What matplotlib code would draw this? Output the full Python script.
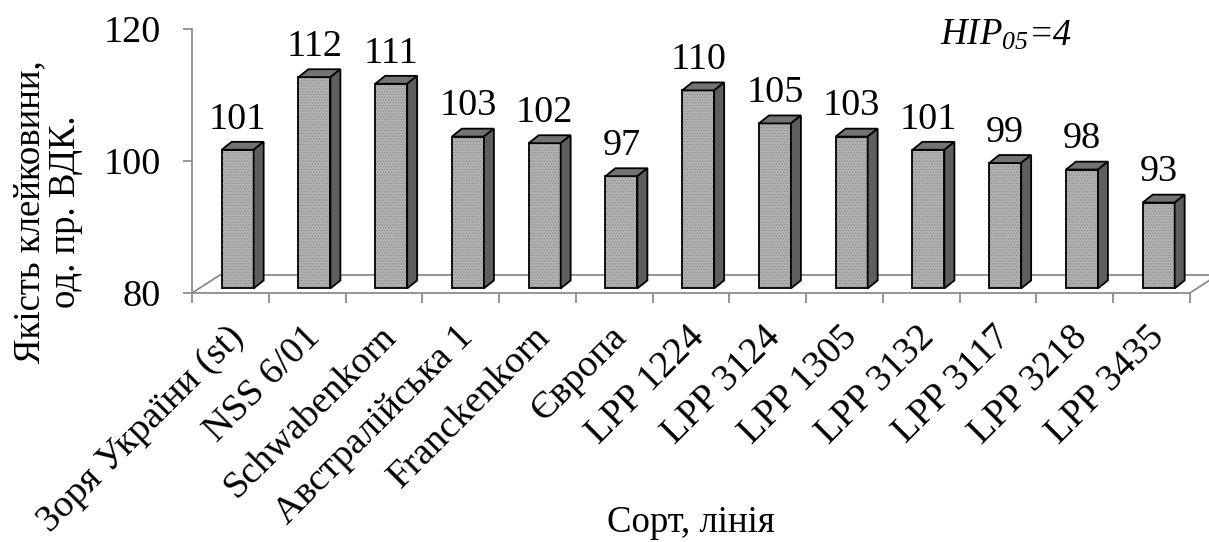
import numpy as np
import matplotlib
matplotlib.use("Agg")
import matplotlib.pyplot as plt
from matplotlib.patches import Polygon
from matplotlib.transforms import offset_copy

# Gluten quality by variety / breeding line
varieties = ["Зоря України (st)", "NSS 6/01", "Schwabenkorn", "Австралійська 1",
             "Franckenkorn", "Європа", "LPP 1224", "LPP 3124", "LPP 1305",
             "LPP 3132", "LPP 3117", "LPP 3218", "LPP 3435"]
quality = [101, 112, 111, 103, 102, 97, 110, 105, 103, 101, 99, 98, 93]
y_ticks = [80, 100, 120]
y_min, y_max = 80, 120
lsd_value = 4

# pseudo-3D projection, in data units
FLOOR_DX, FLOOR_DY = 0.365, 2.73
BAR_SHIFT_X, BAR_SHIFT_Y = 0.095, 0.7
BAR_W = 0.417
SIDE_DX, SIDE_DY = 0.13, 1.2

GREY_LINE = "#8c8c8c"
FONT = "Liberation Serif"
FS = 27.5

plt.rcParams["font.family"] = FONT
plt.rcParams["mathtext.fontset"] = "custom"
plt.rcParams["mathtext.rm"] = FONT + ":italic"
plt.rcParams["mathtext.it"] = FONT + ":italic"
plt.rcParams["hatch.linewidth"] = 0.6

W, H = 1209, 542
fig = plt.figure(figsize=(W / 100, H / 100), dpi=100)
ax = fig.add_axes([192 / W, (H - 293) / H, 997.75 / W, 264 / H])
n = len(varieties)
ax.set_xlim(-0.5, n - 0.5)
ax.set_ylim(y_min, y_max)

for side in ("top", "right", "bottom"):
    ax.spines[side].set_visible(False)
ax.spines["left"].set_color(GREY_LINE)
ax.spines["left"].set_linewidth(1.3)

ax.set_yticks(y_ticks)
ax.set_yticklabels([str(t) for t in y_ticks], fontsize=FS)
ax.tick_params(axis="y", length=6.5, width=1.3, color=GREY_LINE, pad=16)

# category boundaries get the tick marks, labels are drawn by hand
ax.set_xticks(np.arange(n + 1) - 0.5)
ax.set_xticklabels([])
ax.tick_params(axis="x", length=7, width=1.3, color=GREY_LINE)

# floor
floor = Polygon([(-0.5, y_min), (n - 0.5, y_min),
                 (n - 0.5 + FLOOR_DX, y_min + FLOOR_DY),
                 (-0.5 + FLOOR_DX, y_min + FLOOR_DY)],
                closed=True, facecolor="none", edgecolor=GREY_LINE,
                linewidth=1.3, clip_on=False, zorder=1)
ax.add_patch(floor)

for i, v in enumerate(quality):
    x0 = i + BAR_SHIFT_X - BAR_W / 2
    x1 = x0 + BAR_W
    y0 = y_min + BAR_SHIFT_Y
    y1 = v + BAR_SHIFT_Y
    front = [(x0, y0), (x1, y0), (x1, y1), (x0, y1)]
    top = [(x0, y1), (x1, y1), (x1 + SIDE_DX, y1 + SIDE_DY), (x0 + SIDE_DX, y1 + SIDE_DY)]
    side = [(x1, y0), (x1 + SIDE_DX, y0 + SIDE_DY), (x1 + SIDE_DX, y1 + SIDE_DY), (x1, y1)]

    ax.add_patch(Polygon(front, facecolor="#b2b2b2", edgecolor="none",
                         clip_on=False, zorder=2))
    ax.add_patch(Polygon(front, facecolor="none", edgecolor="#8a8a8a", hatch="......",
                         linewidth=0, clip_on=False, zorder=2.1))
    ax.add_patch(Polygon(front, facecolor="none", edgecolor="black",
                         linewidth=1.3, clip_on=False, zorder=2.2))
    ax.add_patch(Polygon(top, facecolor="#737373", edgecolor="black",
                         linewidth=1.3, clip_on=False, zorder=2.2))
    ax.add_patch(Polygon(side, facecolor="#5e5e5e", edgecolor="black",
                         linewidth=1.3, clip_on=False, zorder=2.2))

    ax.text(i + BAR_SHIFT_X, v + BAR_SHIFT_Y + 3.2, str(v), ha="center",
            va="baseline", fontsize=FS, clip_on=False)

    ax.text(i - 0.06, -0.1, varieties[i], rotation=45, rotation_mode="anchor",
            ha="right", va="top", fontsize=FS, transform=ax.get_xaxis_transform(),
            clip_on=False)

fig.text(691 / W, 1 - 523 / H, "Сорт, лінія", ha="center", va="center", fontsize=26.5)
fig.text(48 / W, 1 - 212 / H, "Якість клейковини,\nод. пр. ВДК.", rotation=90,
         ha="center", va="center", multialignment="center", fontsize=26.5,
         linespacing=1.05)

# LSD note: italic "HIP" with subscript, then "=4" set right after it
lsd = fig.text(940 / W, 1 - 45 / H, r"$HIP_{05}$", ha="left", va="baseline",
               fontsize=26.5)
renderer = fig.canvas.get_renderer()
lsd_w = lsd.get_window_extent(renderer).width
fig.text(940 / W, 1 - 45 / H, f"={lsd_value}", style="italic", ha="left",
         va="baseline", fontsize=26.5,
         transform=offset_copy(fig.transFigure, fig=fig, x=lsd_w * 72 / fig.dpi,
                               units="points"))

fig.savefig("out.png", dpi=100, facecolor="white")
